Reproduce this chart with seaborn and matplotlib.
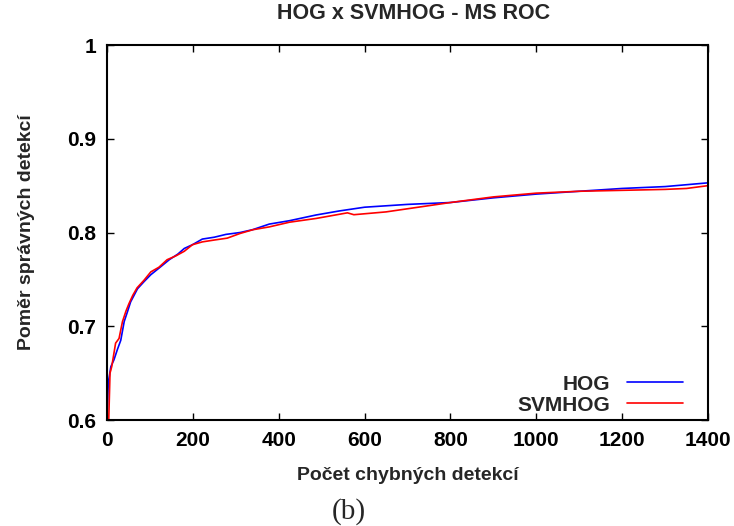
import pandas as pd
import seaborn as sns
import matplotlib.pyplot as plt

# values (false detections vs. detection rate)
hog_x = [0, 3, 9, 16, 24, 32, 40, 48, 55, 63, 71, 86, 102, 121, 145, 165, 180, 199,
         222, 250, 277, 310, 339, 378, 425, 487, 541, 600, 700, 800, 900, 1000,
         1100, 1200, 1300, 1350, 1400]
hog_y = [0.600, 0.640, 0.657, 0.664, 0.675, 0.685, 0.705, 0.716, 0.726, 0.733, 0.740,
         0.7475, 0.755, 0.762, 0.771, 0.777, 0.783, 0.787, 0.793, 0.795, 0.798, 0.800,
         0.803, 0.809, 0.8126, 0.8187, 0.823, 0.827, 0.830, 0.832, 0.837, 0.841,
         0.844, 0.847, 0.849, 0.851, 0.853]

svm_x = [4, 7, 11, 20, 28, 36, 44, 51, 60, 70, 86, 102, 121, 140, 160, 180, 199,
         222, 250, 280, 310, 340, 378, 425, 487, 560, 575, 650, 740, 800, 900,
         1000, 1100, 1200, 1300, 1350, 1400]
svm_y = [0.600, 0.650, 0.657, 0.682, 0.687, 0.705, 0.716, 0.724, 0.733, 0.741,
         0.749, 0.758, 0.763, 0.771, 0.775, 0.780, 0.787, 0.790, 0.792, 0.794, 0.799,
         0.803, 0.806, 0.811, 0.815, 0.821, 0.819, 0.822, 0.828, 0.832, 0.838,
         0.842, 0.844, 0.845, 0.846, 0.847, 0.850]

x_ticks = [0, 200, 400, 600, 800, 1000, 1200, 1400]
y_ticks = [0.6, 0.7, 0.8, 0.9, 1.0]
y_labels = ["0.6", "0.7", "0.8", "0.9", "1"]

df = pd.concat([
    pd.DataFrame({"fp": hog_x, "rate": hog_y, "method": "HOG"}),
    pd.DataFrame({"fp": svm_x, "rate": svm_y, "method": "SVMHOG"}),
])

sns.set_theme(style="ticks")
plt.rcParams["font.family"] = ["Liberation Sans", "DejaVu Sans"]

fig = plt.figure(figsize=(7.34, 5.26), dpi=100)
ax = fig.add_axes([0.1458, 0.2015, 0.8188, 0.7129])

sns.lineplot(data=df, x="fp", y="rate", hue="method", sort=False, estimator=None,
             palette={"HOG": "#0000ff", "SVMHOG": "#ff0000"}, linewidth=1.2, ax=ax)

ax.set_xlim(0, 1400)
ax.set_ylim(0.6, 1.0)
ax.set_xticks(x_ticks)
ax.set_yticks(y_ticks)
ax.set_yticklabels(y_labels)
ax.tick_params(direction="in", top=True, right=True, length=5, width=1,
               labelsize=15, pad=8, colors="black")
for lab in ax.get_xticklabels() + ax.get_yticklabels():
    lab.set_fontweight("bold")
for sp in ax.spines.values():
    sp.set_linewidth(1.5)
    sp.set_color("black")

ax.set_xlabel("Počet chybných detekcí", fontsize=14, fontweight="bold", labelpad=12)
ax.set_ylabel("Poměr správných detekcí", fontsize=14, fontweight="bold", labelpad=23)
ax.set_title("HOG x SVMHOG - MS ROC", fontsize=15.5, fontweight="bold", pad=19, x=0.51)

leg = ax.legend(loc="lower right", bbox_to_anchor=(0.972, -0.008), borderaxespad=0,
                frameon=False, markerfirst=False, title=None, fontsize=15,
                handlelength=2.7, labelspacing=0.1)
for t in leg.get_texts():
    t.set_fontweight("bold")

fig.text(0.475, 0.027, "(b)", fontsize=21, ha="center", va="center",
         family=["Liberation Serif", "DejaVu Serif"])

fig.savefig("out.png", dpi=100)
